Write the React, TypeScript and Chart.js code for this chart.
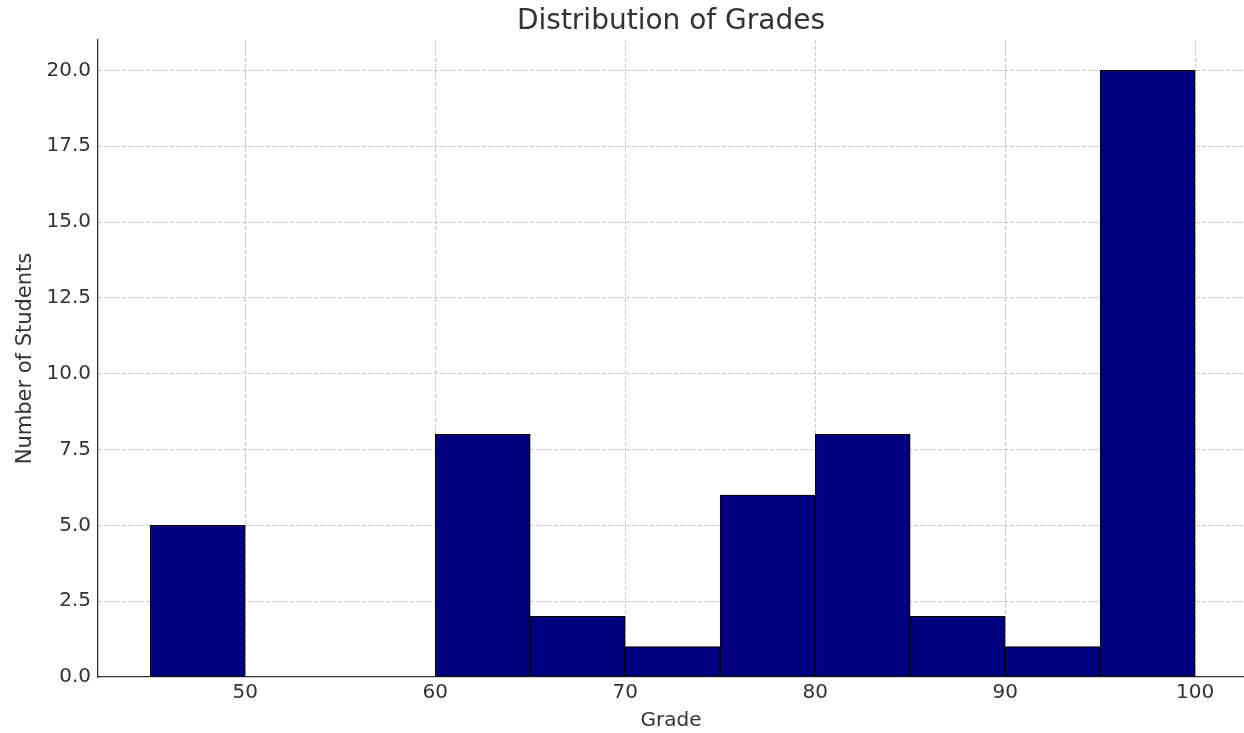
import React, { useEffect, useRef } from "react";
import { Chart, registerables } from "chart.js";

Chart.register(...registerables);

const binCenters = [47.5, 52.5, 57.5, 62.5, 67.5, 72.5, 77.5, 82.5, 87.5, 92.5, 97.5];
const counts = [5, 0, 0, 8, 2, 1, 6, 8, 2, 1, 20];
const xTicks = [50, 60, 70, 80, 90, 100];
const yTicks = [0, 2.5, 5, 7.5, 10, 12.5, 15, 17.5, 20];

const FONT = "'DejaVu Sans', sans-serif";
const TEXT = "#333333";
const GRID = "rgba(176,176,176,0.7)";

export default function App() {
  const ref = useRef<HTMLCanvasElement | null>(null);
  useEffect(() => {
    document.body.style.margin = "0";
    document.body.style.overflow = "hidden";
    const ctx = ref.current!.getContext("2d")!;
    const chart = new Chart(ctx, {
      type: "bar",
      data: {
        datasets: [
          {
            data: binCenters.map((x, i) => ({ x, y: counts[i] })),
            backgroundColor: "#000080",
            borderColor: "#000000",
            borderWidth: 1.2,
            borderSkipped: false,
            barPercentage: 1,
            categoryPercentage: 1,
          },
        ],
      },
      options: {
        animation: false,
        responsive: false,
        maintainAspectRatio: false,
        layout: { padding: 0 },
        plugins: {
          legend: { display: false },
          tooltip: { enabled: false },
          title: {
            display: true,
            fullSize: false,
            text: "Distribution of Grades",
            color: TEXT,
            font: { family: FONT, size: 28, weight: "normal" },
            padding: { top: 5, bottom: 1.4 },
          },
        },
        scales: {
          x: {
            type: "linear",
            min: 42.25,
            max: 102.57,
            offset: false,
            z: 1,
            afterBuildTicks: (s: any) => {
              s.ticks = xTicks.map((v) => ({ value: v }));
            },
            afterFit: (s: any) => {
              s.height = 56;
            },
            ticks: {
              color: TEXT,
              font: { family: FONT, size: 20 },
              padding: 4,
              autoSkip: false,
              maxRotation: 0,
            },
            grid: {
              color: GRID,
              lineWidth: 1,
              drawTicks: false,
              offset: false,
            },
            border: { display: true, color: "#333333", width: 1.3, dash: [4, 2] as any },
            title: {
              display: true,
              text: "Grade",
              color: TEXT,
              font: { family: FONT, size: 20 },
              padding: { top: 0, bottom: 0 },
            },
          },
          y: {
            type: "linear",
            min: 0,
            max: 21,
            z: 1,
            afterBuildTicks: (s: any) => {
              s.ticks = yTicks.map((v) => ({ value: v }));
            },
            afterFit: (s: any) => {
              s.width = 98;
            },
            ticks: {
              color: TEXT,
              font: { family: FONT, size: 20 },
              padding: 7,
              callback: (v: any) => Number(v).toFixed(1),
            },
            grid: {
              color: (c: any) => (c.tick && c.tick.value === 0 ? "rgba(0,0,0,0)" : GRID),
              lineWidth: 1,
              drawTicks: false,
            },
            border: { display: true, color: "#333333", width: 1.3, dash: [4, 2] as any },
            title: {
              display: true,
              text: "Number of Students",
              color: TEXT,
              font: { family: FONT, size: 21 },
              padding: { top: 13, bottom: 0 },
            },
          },
        },
      },
    });
    return () => chart.destroy();
  }, []);
  return <canvas ref={ref} width={1244} height={733} style={{ display: "block" }} />;
}
